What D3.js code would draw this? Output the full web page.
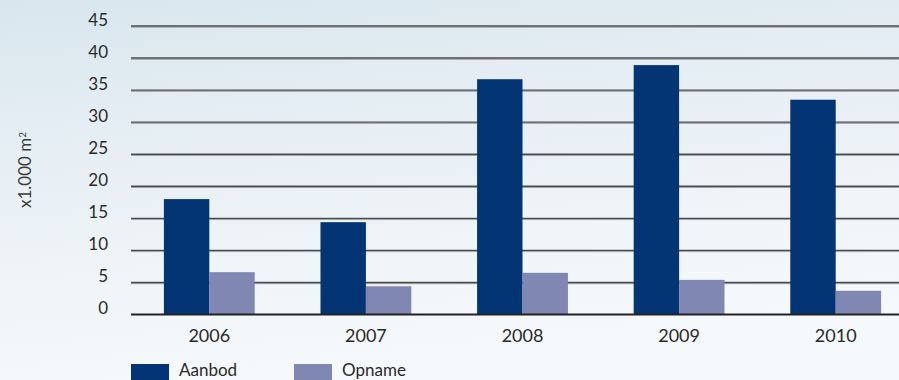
<!DOCTYPE html>
<html>
<head>
<meta charset="utf-8">
<script src="https://cdn.jsdelivr.net/npm/d3@7"></script>
<style>
  html, body { margin: 0; padding: 0; overflow: hidden; }
  svg { display: block; font-family: Lato, "Open Sans", sans-serif; }
</style>
</head>
<body>
<svg id="chart" width="899" height="380"></svg>
<script>
// Office space supply vs. take-up, x1.000 m²
const years = ["2006", "2007", "2008", "2009", "2010"];
const aanbod = [18.0, 14.4, 36.7, 38.9, 33.5];
const opname = [6.6, 4.4, 6.5, 5.4, 3.7];
const seriesNames = ["Aanbod", "Opname"];
const seriesColors = ["#033574", "#7f87b2"];
const yTicks = [0, 5, 10, 15, 20, 25, 30, 35, 40, 45];

const W = 899, H = 380;
const svg = d3.select("#chart");

// soft background wash
const defs = svg.append("defs");
const bg = defs.append("linearGradient").attr("id", "bg")
  .attr("x1", "0").attr("y1", "0").attr("x2", "0.25").attr("y2", "1");
bg.append("stop").attr("offset", "0").attr("stop-color", "#d9e6ee");
bg.append("stop").attr("offset", "0.45").attr("stop-color", "#e8f0f5");
bg.append("stop").attr("offset", "1").attr("stop-color", "#f6f9fb");
svg.append("rect").attr("width", W).attr("height", H).attr("fill", "url(#bg)");

const x0 = d3.scaleBand().domain(years).range([131, 914])
  .paddingInner(0.42).paddingOuter(0.21);
const x1 = d3.scaleBand().domain(seriesNames).range([0, x0.bandwidth()]);
const y = d3.scaleLinear().domain([0, 45]).range([314.5, 26]);

// horizontal grid lines
const grid = svg.append("g");
yTicks.filter(t => t > 0).forEach(t => {
  grid.append("line").attr("x1", 131).attr("x2", W)
    .attr("y1", y(t) + 1.2).attr("y2", y(t) + 1.2)
    .attr("stroke", "#9a9fa4").attr("stroke-width", 1);
  grid.append("line").attr("x1", 131).attr("x2", W)
    .attr("y1", y(t)).attr("y2", y(t))
    .attr("stroke", "#4a4d50").attr("stroke-width", 1.4);
});

// y tick labels
const yAxis = d3.axisLeft(y).tickValues(yTicks).tickSize(0).tickPadding(0);
const gy = svg.append("g").attr("transform", "translate(108,0)").call(yAxis);
gy.select(".domain").remove();
gy.selectAll("text").attr("font-size", 17).attr("fill", "#2a2a2a")
  .attr("dy", "-0.05em").attr("font-family", "Lato, sans-serif");

// bars
const data = years.map((yr, i) => ({ year: yr, values: [aanbod[i], opname[i]] }));
const groups = svg.append("g").selectAll("g").data(data).join("g")
  .attr("transform", d => `translate(${x0(d.year)},0)`);
groups.selectAll("rect")
  .data(d => d.values.map((v, k) => ({ key: seriesNames[k], v, k })))
  .join("rect")
  .attr("x", d => x1(d.key))
  .attr("width", x1.bandwidth())
  .attr("y", d => y(d.v))
  .attr("height", d => y(0) - y(d.v))
  .attr("fill", d => seriesColors[d.k]);

// baseline
svg.append("line").attr("x1", 131).attr("x2", W)
  .attr("y1", y(0)).attr("y2", y(0))
  .attr("stroke", "#222").attr("stroke-width", 1.8);

// x labels
const xAxis = d3.axisBottom(x0).tickSize(0).tickPadding(0);
const gx = svg.append("g").attr("transform", "translate(0,329)").call(xAxis);
gx.select(".domain").remove();
gx.selectAll("text").attr("font-size", 18).attr("fill", "#2a2a2a")
  .attr("font-family", "Lato, sans-serif");

// y axis title
const yt = svg.append("text")
  .attr("transform", "translate(31,170) rotate(-90)")
  .attr("text-anchor", "middle")
  .attr("font-size", 17).attr("fill", "#3a3a3a");
yt.append("tspan").text("x1.000 m");
yt.append("tspan").attr("dy", "-0.55em").attr("font-size", 10).text("2");

// legend
const legendX = [131, 294];
seriesNames.forEach((name, k) => {
  svg.append("rect").attr("x", legendX[k]).attr("y", 364)
    .attr("width", 38).attr("height", 20).attr("fill", seriesColors[k]);
  svg.append("text").attr("x", legendX[k] + 48).attr("y", 376)
    .attr("font-size", 17).attr("fill", "#2a2a2a").text(name);
});
</script>
</body>
</html>
